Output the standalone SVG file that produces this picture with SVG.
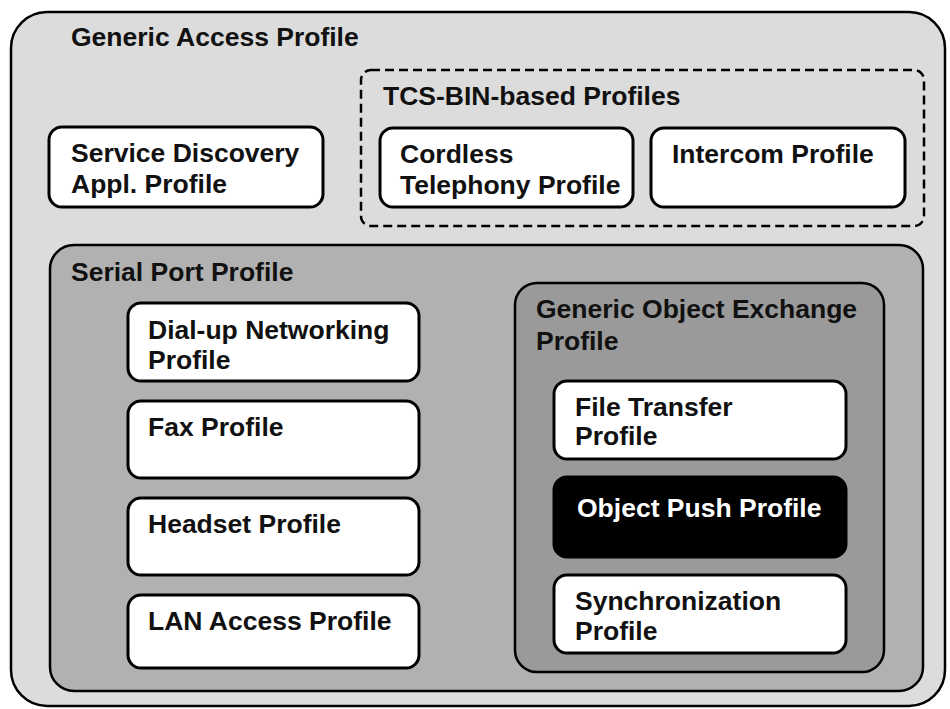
<svg xmlns="http://www.w3.org/2000/svg" width="950" height="709" viewBox="0 0 950 709">
  <style>
    .box { stroke: #000; stroke-width: 3; }
    .white { fill: #fff; }
    .lbl { font-family: "Liberation Sans", Arial, sans-serif; font-weight: bold; font-size: 26.5px; fill: #111; }
    .inv { fill: #fff; }
  </style>

  <!-- Generic Access Profile (outermost container) -->
  <g id="gap">
    <rect x="11" y="12" width="934" height="694" rx="36" ry="36" fill="#dcdcdc" stroke="#000" stroke-width="2.5"/>
    <text class="lbl" x="71" y="46">Generic Access Profile</text>
  </g>

  <!-- Service Discovery Application Profile -->
  <g id="sdap">
    <rect class="box white" x="49" y="127" width="274" height="80" rx="13"/>
    <text class="lbl" x="71" y="162">Service Discovery</text>
    <text class="lbl" x="71" y="193">Appl. Profile</text>
  </g>

  <!-- TCS-BIN-based profiles (dashed grouping) -->
  <g id="tcs">
    <rect x="361" y="70" width="563" height="156" rx="10" fill="none" stroke="#000" stroke-width="2.5" stroke-dasharray="9 5"/>
    <text class="lbl" x="383" y="105">TCS-BIN-based Profiles</text>
  </g>

  <g id="ctp">
    <rect class="box white" x="380" y="128" width="253" height="79" rx="13"/>
    <text class="lbl" x="400" y="163">Cordless</text>
    <text class="lbl" x="400" y="194">Telephony Profile</text>
  </g>

  <g id="icp">
    <rect class="box white" x="651" y="128" width="254" height="79" rx="13"/>
    <text class="lbl" x="672" y="163">Intercom Profile</text>
  </g>

  <!-- Serial Port Profile container -->
  <g id="spp">
    <rect x="50" y="245" width="873" height="446" rx="24" ry="24" fill="#b1b1b1" stroke="#000" stroke-width="2.5"/>
    <text class="lbl" x="71" y="281">Serial Port Profile</text>
  </g>

  <g id="dun">
    <rect class="box white" x="128" y="303" width="291" height="78" rx="13"/>
    <text class="lbl" x="148" y="339">Dial-up Networking</text>
    <text class="lbl" x="148" y="369">Profile</text>
  </g>

  <g id="fax">
    <rect class="box white" x="128" y="401" width="291" height="77" rx="13"/>
    <text class="lbl" x="148" y="436">Fax Profile</text>
  </g>

  <g id="hsp">
    <rect class="box white" x="128" y="498" width="291" height="77" rx="13"/>
    <text class="lbl" x="148" y="533">Headset Profile</text>
  </g>

  <g id="lap">
    <rect class="box white" x="128" y="595" width="291" height="73" rx="13"/>
    <text class="lbl" x="148" y="630">LAN Access Profile</text>
  </g>

  <!-- Generic Object Exchange Profile container -->
  <g id="goep">
    <rect x="515" y="283" width="369" height="389" rx="22" ry="22" fill="#9a9a9a" stroke="#000" stroke-width="2.5"/>
    <text class="lbl" x="536" y="318">Generic Object Exchange</text>
    <text class="lbl" x="536" y="350">Profile</text>
  </g>

  <g id="ftp">
    <rect class="box white" x="554" y="381" width="292" height="78" rx="13"/>
    <text class="lbl" x="575" y="416">File Transfer</text>
    <text class="lbl" x="575" y="445">Profile</text>
  </g>

  <g id="opp">
    <rect x="554" y="477" width="292" height="80" rx="13" fill="#000" stroke="#000" stroke-width="3"/>
    <text class="lbl inv" x="577" y="517">Object Push Profile</text>
  </g>

  <g id="sync">
    <rect class="box white" x="554" y="575" width="292" height="78" rx="13"/>
    <text class="lbl" x="575" y="610">Synchronization</text>
    <text class="lbl" x="575" y="640">Profile</text>
  </g>

  <!-- no connectors in this layered diagram -->
  <g id="connectors"/>
</svg>
